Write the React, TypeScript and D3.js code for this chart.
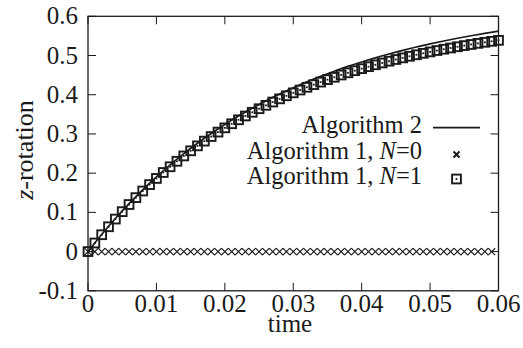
import React from "react";
import * as d3 from "d3";

// ---- data ----
const xTickValues = [0, 0.01, 0.02, 0.03, 0.04, 0.05, 0.06];
const xTickLabels = ["0", "0.01", "0.02", "0.03", "0.04", "0.05", "0.06"];
const yTickValues = [-0.1, 0, 0.1, 0.2, 0.3, 0.4, 0.5, 0.6];
const yTickLabels = ["-0.1", "0", "0.1", "0.2", "0.3", "0.4", "0.5", "0.6"];

// Algorithm 2 (solid line), sampled every 0.002
const alg2Times = [
  0, 0.002, 0.004, 0.006, 0.008, 0.01, 0.012, 0.014, 0.016, 0.018, 0.02,
  0.022, 0.024, 0.026, 0.028, 0.03, 0.032, 0.034, 0.036, 0.038, 0.04,
  0.042, 0.044, 0.046, 0.048, 0.05, 0.052, 0.054, 0.056, 0.058, 0.06,
];
const alg2Values = [
  0, 0.0437, 0.0844, 0.1223, 0.1576, 0.1905, 0.2211, 0.2496, 0.2762, 0.301, 0.3241,
  0.3456, 0.3656, 0.3842, 0.4016, 0.4178, 0.4329, 0.4469, 0.46, 0.4722, 0.4835,
  0.4941, 0.504, 0.5131, 0.5217, 0.5296, 0.5371, 0.544, 0.5504, 0.5564, 0.562,
];

// Algorithm 1 samples, every 0.001
const alg1Times = d3.range(61).map((i) => +(i * 0.001).toFixed(3));
const alg1N0Values = [
  0, 0, 0, 0, 0, 0, 0, 0, 0, 0, 0, 0, 0, 0, 0, 0, 0, 0, 0, 0, 0,
  0, 0, 0, 0, 0, 0, 0, 0, 0, 0, 0, 0, 0, 0, 0, 0, 0, 0, 0,
  0, 0, 0, 0, 0, 0, 0, 0, 0, 0, 0, 0, 0, 0, 0, 0, 0, 0, 0, 0,
];
const alg1N1Values = [
  0, 0.0219, 0.043, 0.0633, 0.0829, 0.1018, 0.12, 0.1376, 0.1545, 0.1708, 0.1865,
  0.2017, 0.2163, 0.2303, 0.2439, 0.257, 0.2696, 0.2817, 0.2934, 0.3047, 0.3155,
  0.326, 0.3361, 0.3458, 0.3552, 0.3643, 0.373, 0.3814, 0.3895, 0.3973, 0.4048,
  0.412, 0.419, 0.4257, 0.4322, 0.4385, 0.4445, 0.4503, 0.4559, 0.4613, 0.4665,
  0.4715, 0.4763, 0.481, 0.4855, 0.4898, 0.494, 0.498, 0.5019, 0.5056, 0.5092,
  0.5127, 0.516, 0.5192, 0.5223, 0.5253, 0.5282, 0.531, 0.5337, 0.5362, 0.5387,
];

// ---- layout ----
const W = 523;
const H = 348;
const L = 88;
const R = 498.5;
const T = 16.3;
const B = 290.8;
const FONT = "Liberation Serif";
const INK = "#1a1a1a";

export default function App() {
  const x = d3.scaleLinear().domain([0, 0.06]).range([L, R]);
  const y = d3.scaleLinear().domain([-0.1, 0.6]).range([B, T]);
  const line = d3
    .line<number>()
    .x((_, i) => x(alg2Times[i]))
    .y((d) => y(d))
    .curve(d3.curveMonotoneX);

  const tick = 8;
  const cs = 3.5; // cross half size
  const ss = 4.4; // square half size

  const Cross = ({ cx, cy, sw = 1.2, h = cs }: any) => (
    <path
      d={`M${cx - h},${cy - h}L${cx + h},${cy + h}M${cx - h},${cy + h}L${cx + h},${cy - h}`}
      stroke={INK}
      strokeWidth={sw}
      fill="none"
    />
  );
  const Square = ({ cx, cy }: any) => (
    <g>
      <rect x={cx - ss} y={cy - ss} width={2 * ss} height={2 * ss} fill="none" stroke={INK} strokeWidth={1.9} />
      <rect x={cx - 0.9} y={cy - 0.9} width={1.8} height={1.8} fill={INK} />
    </g>
  );

  return (
    <svg
      width={W}
      height={H}
      viewBox={`0 0 ${W} ${H}`}
      style={{ position: "fixed", left: 0, top: 0, background: "#fff" }}
    >
      <rect x={0} y={0} width={W} height={H} fill="#fff" />
      {/* ticks */}
      {xTickValues.map((v, i) => (
        <g key={"xt" + i}>
          <line x1={x(v)} x2={x(v)} y1={B} y2={B - tick} stroke={INK} strokeWidth={1} />
          <line x1={x(v)} x2={x(v)} y1={T} y2={T + tick} stroke={INK} strokeWidth={1} />
          <text
            x={x(v)}
            y={B + 21}
            textAnchor="middle"
            fontFamily={FONT}
            fontSize={25}
            fill={INK}
          >
            {xTickLabels[i]}
          </text>
        </g>
      ))}
      {yTickValues.map((v, i) => (
        <g key={"yt" + i}>
          <line x1={L} x2={L + tick} y1={y(v)} y2={y(v)} stroke={INK} strokeWidth={1} />
          <line x1={R} x2={R - tick} y1={y(v)} y2={y(v)} stroke={INK} strokeWidth={1} />
          <text
            x={L - 10}
            y={y(v) + 8}
            textAnchor="end"
            fontFamily={FONT}
            fontSize={25}
            fill={INK}
          >
            {yTickLabels[i]}
          </text>
        </g>
      ))}
      {/* frame */}
      <rect x={L} y={T} width={R - L} height={B - T} fill="none" stroke={INK} strokeWidth={1.3} />

      {/* series */}
      <path d={line(alg2Values) || ""} fill="none" stroke={INK} strokeWidth={1.7} />
      {alg1N0Values.map((v, i) => (
        <Cross key={"c" + i} cx={x(alg1Times[i])} cy={y(v)} />
      ))}
      {alg1N1Values.map((v, i) => (
        <Square key={"s" + i} cx={x(alg1Times[i])} cy={y(v)} />
      ))}

      {/* legend */}
      <g fontFamily={FONT} fontSize={24.5} fill={INK}>
        <text x={422} y={133} textAnchor="end">Algorithm 2</text>
        <line x1={433} x2={480} y1={127.7} y2={127.7} stroke={INK} strokeWidth={1.7} />
        <text x={422} y={158.5} textAnchor="end">
          Algorithm 1, <tspan fontStyle="italic">N</tspan>=0
        </text>
        <Cross cx={456.5} cy={154.5} sw={2} h={3} />
        <text x={422} y={184} textAnchor="end">
          Algorithm 1, <tspan fontStyle="italic">N</tspan>=1
        </text>
        <Square cx={456.5} cy={179} />
      </g>

      {/* axis titles */}
      <text x={290} y={332} textAnchor="middle" fontFamily={FONT} fontSize={25} fill={INK}>
        time
      </text>
      <text
        transform={`translate(33,150) rotate(-90)`}
        textAnchor="middle"
        fontFamily={FONT}
        fontSize={26}
        fill={INK}
      >
        <tspan fontStyle="italic">z</tspan>-rotation
      </text>
    </svg>
  );
}
